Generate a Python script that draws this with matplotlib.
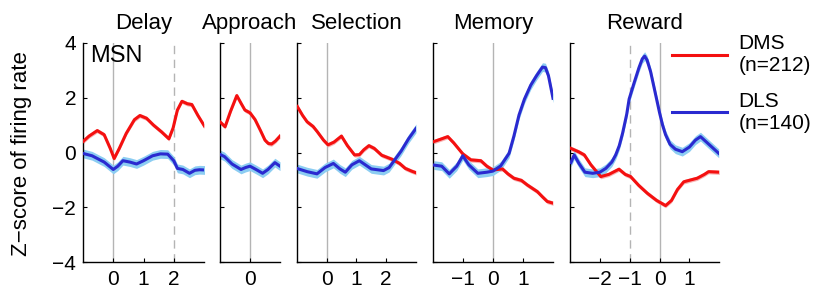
import numpy as np
import matplotlib.pyplot as plt

plt.rcParams['font.family'] = ['Liberation Sans', 'DejaVu Sans']

# ---- data (time in s, z-score) ----
# Delay
delay_t_dms = [-1.05, -0.8, -0.53, -0.3, -0.1, 0.03, 0.2, 0.43, 0.7, 0.88, 1.1, 1.33, 1.6, 1.84, 1.98, 2.12, 2.27, 2.45, 2.6, 2.8, 3.05]
delay_dms = [0.35, 0.6, 0.8, 0.65, 0.15, -0.22, 0.15, 0.7, 1.2, 1.35, 1.25, 1.0, 0.75, 0.5, 0.9, 1.55, 1.87, 1.78, 1.75, 1.35, 0.9]
delay_t_dls = [-1.05, -0.7, -0.3, 0.0, 0.15, 0.32, 0.55, 0.77, 1.0, 1.3, 1.56, 1.8, 2.0, 2.12, 2.3, 2.52, 2.7, 2.85, 3.05]
delay_dls = [-0.02, -0.12, -0.35, -0.62, -0.5, -0.3, -0.35, -0.42, -0.3, -0.12, -0.05, -0.06, -0.3, -0.58, -0.62, -0.76, -0.65, -0.63, -0.64]

# Approach
appr_t_dms = [-1.0, -0.83, -0.65, -0.44, -0.3, -0.17, 0.0, 0.17, 0.35, 0.5, 0.61, 0.72, 0.85, 1.0]
appr_dms = [1.12, 0.94, 1.5, 2.08, 1.8, 1.55, 1.45, 1.2, 0.8, 0.45, 0.33, 0.31, 0.42, 0.6]
appr_t_dls = [-1.0, -0.85, -0.6, -0.3, -0.15, 0.0, 0.2, 0.42, 0.6, 0.83, 1.0]
appr_dls = [-0.07, -0.15, -0.42, -0.62, -0.55, -0.5, -0.62, -0.76, -0.62, -0.37, -0.5]

# Selection
sel_t_dms = [-0.98, -0.8, -0.65, -0.45, -0.31, -0.1, 0.05, 0.25, 0.5, 0.7, 0.94, 1.1, 1.25, 1.42, 1.6, 1.85, 2.2, 2.45, 2.64, 2.85, 3.0]
sel_dms = [1.68, 1.35, 1.12, 0.95, 0.76, 0.45, 0.28, 0.38, 0.6, 0.25, -0.09, -0.08, 0.1, 0.25, 0.15, -0.1, -0.25, -0.4, -0.58, -0.68, -0.74]
sel_t_dls = [-1.0, -0.65, -0.32, -0.05, 0.23, 0.45, 0.63, 0.85, 1.1, 1.3, 1.5, 1.91, 2.1, 2.24, 2.5, 2.75, 3.0]
sel_dls = [-0.58, -0.7, -0.78, -0.55, -0.4, -0.6, -0.72, -0.45, -0.3, -0.45, -0.6, -0.66, -0.55, -0.34, 0.05, 0.5, 0.88]

# Memory
mem_t_dms = [-1.96, -1.7, -1.5, -1.3, -1.0, -0.73, -0.4, -0.2, 0.0, 0.32, 0.5, 0.7, 0.95, 1.15, 1.48, 1.65, 1.81, 2.0]
mem_dms = [0.4, 0.5, 0.58, 0.35, -0.05, -0.27, -0.3, -0.5, -0.64, -0.6, -0.78, -0.94, -1.02, -1.19, -1.43, -1.62, -1.79, -1.85]
mem_t_dls = [-1.96, -1.7, -1.45, -1.2, -1.0, -0.8, -0.5, -0.2, 0.0, 0.26, 0.54, 0.7, 0.87, 1.05, 1.26, 1.45, 1.65, 1.75, 1.85, 2.0]
mem_dls = [-0.46, -0.5, -0.78, -0.5, -0.12, -0.45, -0.76, -0.72, -0.68, -0.49, -0.03, 0.6, 1.37, 1.95, 2.46, 2.8, 3.12, 3.1, 2.8, 1.98]

# Reward
rew_t_dms = [-2.97, -2.7, -2.52, -2.3, -1.97, -1.7, -1.36, -1.15, -0.97, -0.7, -0.41, -0.1, 0.2, 0.4, 0.6, 0.81, 1.05, 1.26, 1.5, 1.64, 2.0]
rew_dms = [0.15, 0.02, -0.09, -0.45, -0.88, -0.8, -0.61, -0.8, -0.88, -1.2, -1.49, -1.75, -1.94, -1.75, -1.35, -1.07, -1.0, -0.94, -0.8, -0.7, -0.72]
rew_t_dls = [-2.97, -2.86, -2.7, -2.5, -2.24, -2.0, -1.8, -1.6, -1.47, -1.35, -1.24, -1.1, -1.02, -0.86, -0.69, -0.58, -0.5, -0.42, -0.3, -0.2, -0.1, 0.0, 0.1, 0.2, 0.35, 0.53, 0.76, 1.0, 1.2, 1.37, 1.6, 1.98]
rew_dls = [-0.37, -0.09, -0.4, -0.72, -0.76, -0.72, -0.58, -0.35, -0.09, 0.25, 0.7, 1.4, 1.95, 2.52, 3.1, 3.42, 3.52, 3.38, 2.95, 2.45, 1.95, 1.45, 1.0, 0.65, 0.3, 0.12, 0.03, 0.2, 0.45, 0.58, 0.35, -0.03]

titles = ['Delay', 'Approach', 'Selection', 'Memory', 'Reward']
xlims = [(-1, 3), (-1, 1), (-1, 3), (-2, 2), (-3, 2)]
xticks = [[0, 1, 2], [0], [0, 1, 2], [-1, 0, 1], [-2, -1, 0, 1]]
dashed_at = [2, None, None, None, -1]
dms_sem = 0.08
dls_sem = 0.16

panels = [
    (delay_t_dms, delay_dms, delay_t_dls, delay_dls),
    (appr_t_dms, appr_dms, appr_t_dls, appr_dls),
    (sel_t_dms, sel_dms, sel_t_dls, sel_dls),
    (mem_t_dms, mem_dms, mem_t_dls, mem_dls),
    (rew_t_dms, rew_dms, rew_t_dls, rew_dls),
]

# axes boxes in pixels (left, right) -> figure fractions
W, H = 813, 293
px_lr = [(83, 204), (220, 280), (296.7, 416), (432.7, 553), (570, 719.3)]
bottom = (H - 262) / H
height = (262 - 43) / H

red = '#f41010'
red_band = '#f8b4b4'
blue = '#2a2ad0'
blue_band = '#8ccdf2'

fig = plt.figure(figsize=(W / 100, H / 100), dpi=100)

axes = []
for i, (l, r) in enumerate(px_lr):
    ax = fig.add_axes([l / W, bottom, (r - l) / W, height])
    td, zd, tb, zb = panels[i]
    td, zd, tb, zb = map(np.asarray, (td, zd, tb, zb))

    ax.axvline(0, color='#b4b4b4', lw=1, zorder=1)
    if dashed_at[i] is not None:
        ax.axvline(dashed_at[i], color='#b4b4b4', lw=1, ls=(0, (6, 4)), zorder=1)

    ax.fill_between(td, zd - dms_sem, zd + dms_sem, color=red_band, lw=0, zorder=2)
    ax.fill_between(tb, zb - dls_sem, zb + dls_sem, color=blue_band, lw=0, zorder=2)
    ax.plot(td, zd, color=red, lw=2.2, zorder=3, label='DMS\n(n=212)')
    ax.plot(tb, zb, color=blue, lw=2.2, zorder=3, label='DLS\n(n=140)')

    ax.set_xlim(*xlims[i])
    ax.set_ylim(-4, 4)
    ax.set_xticks(xticks[i])
    ax.set_yticks([-4, -2, 0, 2, 4])
    ax.tick_params(direction='in', length=3, width=0.8, labelsize=15)
    ax.tick_params(axis='x', pad=6)
    ax.tick_params(axis='y', pad=5)
    if i > 0:
        ax.set_yticklabels([])
    else:
        ax.set_yticklabels(['\u22124', '\u22122', '0', '2', '4'])
    ax.set_xticklabels([str(v).replace('-', '\u2212') for v in xticks[i]])
    for s in ['top', 'right']:
        ax.spines[s].set_visible(False)
    for s in ['left', 'bottom']:
        ax.spines[s].set_linewidth(1)
    ax.set_title(titles[i], fontsize=16, pad=10)
    axes.append(ax)

axes[0].text(0.06, 0.99, 'MSN', transform=axes[0].transAxes, fontsize=17,
             va='top', ha='left')
fig.text(22 / W, 1 - 154 / H, 'Z\u2212score of firing rate', fontsize=16,
         rotation=90, ha='center', va='center')

handles, labels = axes[-1].get_legend_handles_labels()
fig.legend(handles, labels, loc='upper left', bbox_to_anchor=(672 / W, 1 - 34 / H),
           frameon=False, fontsize=15, handlelength=2.65, handletextpad=0.55,
           labelspacing=0.8, borderpad=0, borderaxespad=0)

fig.savefig('out.png', dpi=100)
